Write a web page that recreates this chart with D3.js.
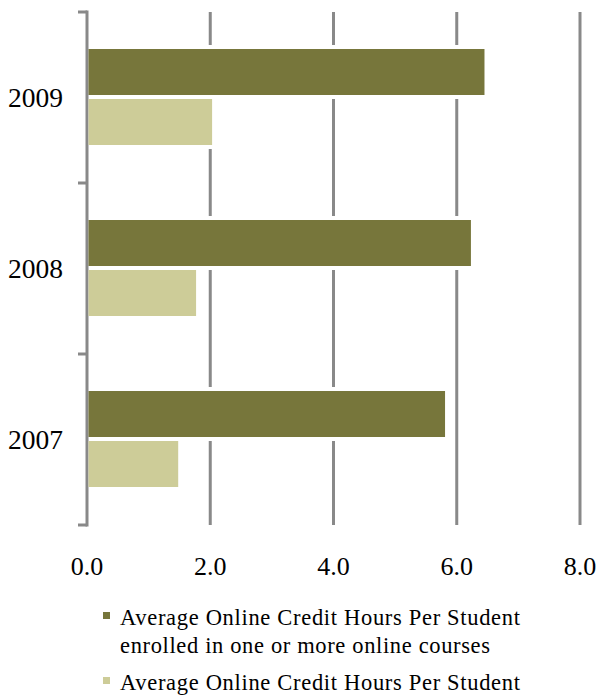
<!DOCTYPE html>
<html>
<head>
<meta charset="utf-8">
<script src="https://cdn.jsdelivr.net/npm/d3@7/dist/d3.min.js"></script>
<style>
  html, body { margin: 0; padding: 0; background: #fff; }
  svg { display: block; }
  text { font-family: "Liberation Serif", "Times New Roman", serif; fill: #000; }
</style>
</head>
<body>
<svg id="chart" width="597" height="698"></svg>
<script>
const years = ["2009", "2008", "2007"];
const seriesNames = ["enrolledOne", "enrolledOther"];
const darkValues = [6.45, 6.23, 5.81];
const lightValues = [2.03, 1.77, 1.48];
const xTicks = [0, 2, 4, 6, 8];
const legendLines = [
  ["Average Online Credit Hours Per Student", "enrolled in one or more online courses"],
  ["Average Online Credit Hours Per Student"]
];
const colors = ["#77763b", "#cdcc98"];

const svg = d3.select("#chart");
const x = d3.scaleLinear().domain([0, 8]).range([87, 580]);
const y = d3.scaleBand().domain(years).range([12, 525]);
const y1 = d3.scaleBand().domain(seriesNames).range([37, 133]).paddingInner(0.08);

const data = years.map((yr, i) => ({ year: yr, values: [darkValues[i], lightValues[i]] }));

// gridlines
svg.append("g").selectAll("line").data(xTicks.filter(t => t > 0)).join("line")
  .attr("x1", d => x(d)).attr("x2", d => x(d))
  .attr("y1", y.range()[0]).attr("y2", y.range()[1])
  .attr("stroke", "#898989").attr("stroke-width", 3);

// axis line + ticks
const ax = svg.append("g");
ax.append("line").attr("x1", x(0)).attr("x2", x(0))
  .attr("y1", y.range()[0] - 1.5).attr("y2", y.range()[1] + 1.5)
  .attr("stroke", "#898989").attr("stroke-width", 3);
const bounds = years.map(yr => y(yr)).concat([y.range()[1]]);
ax.selectAll("line.tk").data(bounds).join("line").attr("class", "tk")
  .attr("x1", x(0) - 9).attr("x2", x(0))
  .attr("y1", d => d).attr("y2", d => d)
  .attr("stroke", "#898989").attr("stroke-width", 3);

// bars
const groups = svg.append("g").selectAll("g").data(data).join("g")
  .attr("transform", d => `translate(0,${y(d.year)})`);
groups.selectAll("rect.halo").data(d => d.values).join("rect").attr("class", "halo")
  .attr("x", x(0) + 2)
  .attr("y", (d, i) => y1(seriesNames[i]) - 4)
  .attr("width", d => x(d) - x(0) + 2)
  .attr("height", y1.bandwidth() + 8)
  .attr("fill", "#fff");
groups.selectAll("rect.bar").data(d => d.values).join("rect").attr("class", "bar")
  .attr("x", x(0) + 1.5)
  .attr("y", (d, i) => y1(seriesNames[i]))
  .attr("width", d => x(d) - x(0) - 1.5)
  .attr("height", y1.bandwidth())
  .attr("fill", (d, i) => colors[i]);

// y labels
svg.append("g").selectAll("text").data(years).join("text")
  .attr("x", 63).attr("y", d => y(d) + y.bandwidth() / 2 + 9)
  .attr("text-anchor", "end").attr("font-size", 27)
  .attr("textLength", 55).attr("lengthAdjust", "spacingAndGlyphs")
  .text(d => d);

// x labels
svg.append("g").selectAll("text").data(xTicks).join("text")
  .attr("x", d => x(d)).attr("y", 575)
  .attr("text-anchor", "middle").attr("font-size", 26)
  .text(d => d.toFixed(1));

// legend
const lg = svg.append("g");
const legendY = [625, 690];
const lineLengths = [[400, 370], [400]];
legendLines.forEach((lines, i) => {
  lg.append("rect").attr("x", 103).attr("y", legendY[i] - 13).attr("width", 7).attr("height", 7)
    .attr("fill", colors[i]);
  lines.forEach((t, j) => {
    lg.append("text").attr("x", 120).attr("y", legendY[i] + j * 28)
      .attr("font-size", 22.5)
      .attr("textLength", lineLengths[i][j]).attr("lengthAdjust", "spacing")
      .text(t);
  });
});
</script>
</body>
</html>
